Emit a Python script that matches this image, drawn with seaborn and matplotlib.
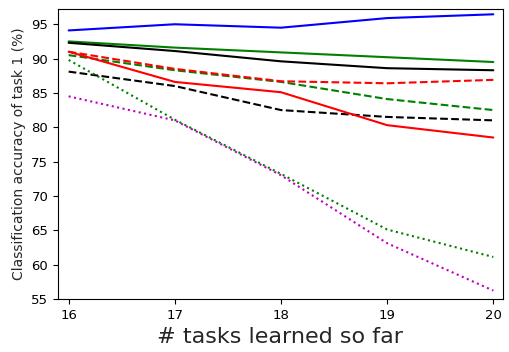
import matplotlib
matplotlib.use("Agg")
import matplotlib.pyplot as plt
import seaborn as sns
import pandas as pd

tasks = [16, 17, 18, 19, 20]

blue_solid = [94.1, 95.0, 94.5, 95.9, 96.45]
green_solid = [92.5, 91.6, 90.9, 90.2, 89.5]
black_solid = [92.3, 91.1, 89.6, 88.6, 88.3]
green_dashed = [90.5, 88.3, 86.6, 84.1, 82.5]
red_dashed = [91.0, 88.5, 86.7, 86.4, 86.9]
black_dashed = [88.1, 86.0, 82.5, 81.5, 81.0]
red_solid = [91.0, 86.6, 85.1, 80.3, 78.5]
green_dotted = [89.8, 81.1, 73.2, 65.1, 61.1]
magenta_dotted = [84.5, 81.0, 73.0, 63.1, 56.2]

series = [
    (blue_solid, "b", "-"),
    (green_solid, "g", "-"),
    (black_solid, "k", "-"),
    (green_dashed, "g", "--"),
    (red_dashed, "r", "--"),
    (black_dashed, "k", "--"),
    (red_solid, "r", "-"),
    (green_dotted, "g", ":"),
    (magenta_dotted, "m", ":"),
]

sns.set_style("ticks")
plt.rcParams["font.family"] = ["DejaVu Sans"]

fig = plt.figure(figsize=(5.09, 3.52), dpi=100)
ax = fig.add_axes([0.114, 0.151, 0.874, 0.823])

for vals, color, ls in series:
    df = pd.DataFrame({"tasks": tasks, "acc": vals})
    sns.lineplot(data=df, x="tasks", y="acc", ax=ax, color=color,
                 linestyle=ls, linewidth=1.5)

ax.set_xlim(15.9, 20.09)
ax.set_ylim(55, 97.2)
ax.set_xticks(tasks)
ax.set_yticks([55, 60, 65, 70, 75, 80, 85, 90, 95])
ax.tick_params(labelsize=9.5, direction="out", length=3.5, width=0.8, colors="black")
ax.set_xlabel("# tasks learned so far", fontsize=16)
ax.set_ylabel("Classification accuracy of task 1 (%)", fontsize=10)
for s in ax.spines.values():
    s.set_color("black")
    s.set_linewidth(0.8)

fig.savefig("out.png", dpi=100)
